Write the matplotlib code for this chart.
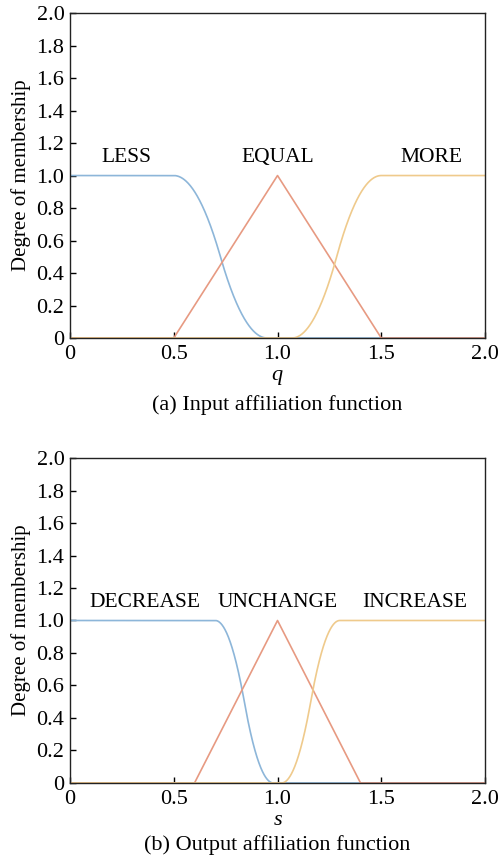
import numpy as np
import matplotlib
matplotlib.use("Agg")
import matplotlib.pyplot as plt

plt.rcParams['font.family'] = ['Liberation Serif', 'DejaVu Serif']
plt.rcParams['mathtext.fontset'] = 'custom'
plt.rcParams['mathtext.it'] = 'Liberation Serif:italic'
plt.rcParams['mathtext.rm'] = 'Liberation Serif'

# Membership-function parameters
input_labels = ["LESS", "EQUAL", "MORE"]
input_less = [0.5, 0.95]          # z-shaped: start, end
input_equal = [0.5, 1.0, 1.5]     # triangle
input_more = [1.07, 1.5]          # s-shaped: start, end
input_label_x = [0.27, 1.0, 1.74]
input_label_y = [1.11, 1.11, 1.11]

output_labels = ["DECREASE", "UNCHANGE", "INCREASE"]
output_dec = [0.7, 0.98]
output_unc = [0.6, 1.0, 1.4]
output_inc = [1.02, 1.3]
output_label_x = [0.36, 1.0, 1.66]
output_label_y = [1.11, 1.11, 1.11]

x_ticks = [0, 0.5, 1.0, 1.5, 2.0]
x_ticklabels = ["0", "0.5", "1.0", "1.5", "2.0"]
y_ticks = [0, 0.2, 0.4, 0.6, 0.8, 1.0, 1.2, 1.4, 1.6, 1.8, 2.0]
y_ticklabels = ["0", "0.2", "0.4", "0.6", "0.8", "1.0", "1.2", "1.4", "1.6", "1.8", "2.0"]

C_BLUE = "#8db6d9"
C_RED = "#e79a82"
C_YEL = "#efca8c"


def smf(x, a, b):
    y = np.zeros_like(x)
    m = (a + b) / 2
    i1 = (x > a) & (x <= m)
    i2 = (x > m) & (x < b)
    y[i1] = 2 * ((x[i1] - a) / (b - a)) ** 2
    y[i2] = 1 - 2 * ((x[i2] - b) / (b - a)) ** 2
    y[x >= b] = 1
    return y


def zmf(x, a, b):
    return 1 - smf(x, a, b)


def trimf(x, a, b, c):
    return np.clip(np.minimum((x - a) / (b - a), (c - x) / (c - b)), 0, 1)


x = np.linspace(0, 2, 2001)

fig = plt.figure(figsize=(4.99, 8.59), dpi=100)
ax1 = fig.add_axes([0.1403, 0.6065, 0.8317, 0.3783])
ax2 = fig.add_axes([0.1403, 0.0885, 0.8317, 0.3783])


def style(ax, xl, xl_y, cap, cap_y):
    ax.set_xlim(0, 2)
    ax.set_ylim(0, 2)
    ax.set_xticks(x_ticks)
    ax.set_xticklabels(x_ticklabels, fontsize=16)
    ax.set_yticks(y_ticks)
    ax.set_yticklabels(y_ticklabels, fontsize=16)
    ax.tick_params(direction='in', length=4, width=1, top=False, right=False)
    ax.tick_params(axis='x', pad=5)
    ax.tick_params(axis='y', pad=4)
    for s in ax.spines.values():
        s.set_linewidth(1.0)
        s.set_color('#222222')
    ax.set_ylabel("Degree of membership", fontsize=15, labelpad=4)
    ax.text(0.5, xl_y, xl, transform=ax.transAxes, ha='center', va='center', fontsize=16)
    ax.text(0.5, cap_y, cap, transform=ax.transAxes, ha='center', va='center', fontsize=16)


lw = 1.2
ax1.plot(x, zmf(x, *input_less), color=C_BLUE, lw=lw)
ax1.plot(x, trimf(x, *input_equal), color=C_RED, lw=lw)
ax1.plot(x, smf(x, *input_more), color=C_YEL, lw=lw)
for t, tx, ty in zip(input_labels, input_label_x, input_label_y):
    ax1.text(tx, ty, t, ha='center', va='center', fontsize=15.5)
style(ax1, "$q$", -0.12, "(a) Input affiliation function", -0.207)

ax2.plot(x, zmf(x, *output_dec), color=C_BLUE, lw=lw)
ax2.plot(x, trimf(x, *output_unc), color=C_RED, lw=lw)
ax2.plot(x, smf(x, *output_inc), color=C_YEL, lw=lw)
for t, tx, ty in zip(output_labels, output_label_x, output_label_y):
    ax2.text(tx, ty, t, ha='center', va='center', fontsize=15.5)
style(ax2, "$s$", -0.115, "(b) Output affiliation function", -0.192)

fig.savefig("out.png", dpi=100)
